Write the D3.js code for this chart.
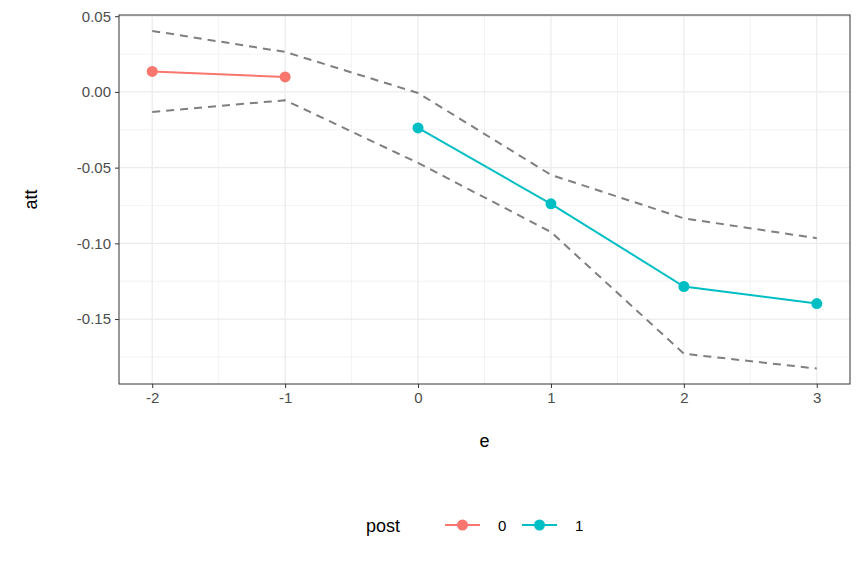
<html>
<head>
<meta charset="UTF-8"/>
<script src="https://d3js.org/d3.v7.min.js"></script>
<style>
  body { margin: 0; font-family: 'Liberation Sans', Arial, sans-serif; background: #fff; }
  svg { display: block; }
  .tick text { font-size: 15px; fill: #4d4d4d; }
  .label { font-size: 18px; fill: #000; }
</style>
</head>
<body>
<svg width="864" height="576"></svg>
<script>
const eVals = [-2, -1, 0, 1, 2, 3];
const att = [0.0135, 0.0099, -0.0238, -0.0739, -0.1285, -0.1398];
const post = ['0', '0', '1', '1', '1', '1'];
const upper = [0.0403, 0.0264, -0.0007, -0.0548, -0.0835, -0.0966];
const lower = [-0.0132, -0.0055, -0.0469, -0.0925, -0.1729, -0.1827];
const xTicks = [-2, -1, 0, 1, 2, 3];
const yTicks = [0.05, 0.00, -0.05, -0.10, -0.15];
const colors = { '0': '#F8766D', '1': '#00BFC4' };

const svg = d3.select('svg');
const pLeft = 119, pRight = 850, pTop = 15, pBottom = 384;

const x = d3.scaleLinear().domain([-2.25, 3.25]).range([pLeft, pRight]);
const y = d3.scaleLinear().domain([-0.1929, 0.0508]).range([pBottom, pTop]);

const grid = svg.append('g');
// minor grid
const xMinor = xTicks.slice(0, -1).map(v => v + 0.5);
const yMinor = [0.025, -0.025, -0.075, -0.125, -0.175];
grid.selectAll('.xm').data(xMinor).enter().append('line')
  .attr('x1', d => x(d)).attr('x2', d => x(d)).attr('y1', pTop).attr('y2', pBottom)
  .attr('stroke', '#ebebeb').attr('stroke-width', 0.6);
grid.selectAll('.ym').data(yMinor).enter().append('line')
  .attr('y1', d => y(d)).attr('y2', d => y(d)).attr('x1', pLeft).attr('x2', pRight)
  .attr('stroke', '#ebebeb').attr('stroke-width', 0.6);
grid.selectAll('.xM').data(xTicks).enter().append('line')
  .attr('x1', d => x(d)).attr('x2', d => x(d)).attr('y1', pTop).attr('y2', pBottom)
  .attr('stroke', '#ebebeb').attr('stroke-width', 1.2);
grid.selectAll('.yM').data(yTicks).enter().append('line')
  .attr('y1', d => y(d)).attr('y2', d => y(d)).attr('x1', pLeft).attr('x2', pRight)
  .attr('stroke', '#ebebeb').attr('stroke-width', 1.2);

// confidence bands
const band = d3.line().x((d, i) => x(eVals[i])).y(d => y(d));
[upper, lower].forEach(arr => {
  svg.append('path').attr('d', band(arr)).attr('fill', 'none')
    .attr('stroke', '#7f7f7f').attr('stroke-width', 2).attr('stroke-dasharray', '8,6');
});

// series lines
['0', '1'].forEach(g => {
  const idx = eVals.map((v, i) => i).filter(i => post[i] === g);
  const line = d3.line().x(i => x(eVals[i])).y(i => y(att[i]));
  svg.append('path').attr('d', line(idx)).attr('fill', 'none')
    .attr('stroke', colors[g]).attr('stroke-width', 2);
  svg.selectAll(null).data(idx).enter().append('circle')
    .attr('cx', i => x(eVals[i])).attr('cy', i => y(att[i])).attr('r', 5.5)
    .attr('fill', colors[g]);
});

// border
svg.append('rect').attr('x', pLeft).attr('y', pTop).attr('width', pRight - pLeft).attr('height', pBottom - pTop)
  .attr('fill', 'none').attr('stroke', '#333').attr('stroke-width', 1);

// axes
const xAxis = svg.append('g').attr('transform', `translate(0,${pBottom})`)
  .call(d3.axisBottom(x).tickValues(xTicks).tickFormat(d3.format('d')).tickSize(4).tickPadding(4));
const yAxis = svg.append('g').attr('transform', `translate(${pLeft},0)`)
  .call(d3.axisLeft(y).tickValues(yTicks).tickSize(4).tickPadding(4));
[xAxis, yAxis].forEach(a => {
  a.select('.domain').remove();
  a.selectAll('.tick line').attr('stroke', '#333');
});
xAxis.selectAll('.tick text').text(d => String(d));
yAxis.selectAll('.tick text').text(d => d.toFixed(2));

svg.append('text').attr('class', 'label').attr('x', (pLeft + pRight) / 2).attr('y', 447)
  .attr('text-anchor', 'middle').text('e');
svg.append('text').attr('class', 'label').attr('transform', `translate(37,${(pTop + pBottom) / 2}) rotate(-90)`)
  .attr('text-anchor', 'middle').text('att');

// legend
const lg = svg.append('g');
lg.append('text').attr('class', 'label').attr('x', 366).attr('y', 532).text('post');
[['0', 445], ['1', 522]].forEach(([k, lx]) => {
  lg.append('line').attr('x1', lx).attr('x2', lx + 35).attr('y1', 525).attr('y2', 525)
    .attr('stroke', colors[k]).attr('stroke-width', 2);
  lg.append('circle').attr('cx', lx + 17.5).attr('cy', 525).attr('r', 5.5).attr('fill', colors[k]);
  lg.append('text').attr('x', lx + 53).attr('y', 531).style('font-size', '15px').text(k);
});
</script>
</body>
</html>
